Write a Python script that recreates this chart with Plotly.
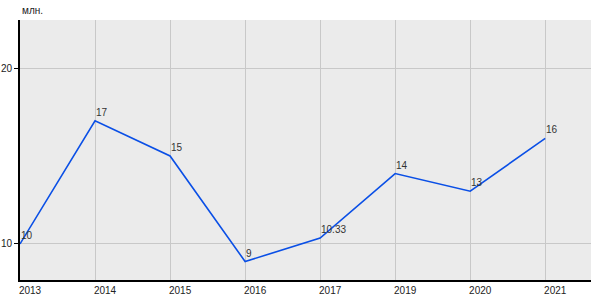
import plotly.graph_objects as go

years = ["2013", "2014", "2015", "2016", "2017", "2019", "2020", "2021"]
values = [10, 17, 15, 9, 10.33, 14, 13, 16]
y_ticks = [10, 20]
unit_label = "млн."

fig = go.Figure()
fig.add_trace(go.Scatter(
    x=years, y=values, mode="lines",
    line=dict(color="#0a4fe6", width=1.6),
    hoverinfo="skip", showlegend=False, cliponaxis=False,
))

labels = [dict(x=i, y=v, xref="x", yref="y", text=f"{v:g}", showarrow=False,
               xanchor="left", yanchor="bottom", xshift=-1, yshift=1,
               font=dict(size=10, color="#333333"))
          for i, v in enumerate(values)]

fig.update_layout(
    width=600, height=300,
    margin=dict(l=20, r=9, t=20, b=20),
    paper_bgcolor="#ffffff", plot_bgcolor="#ebebeb",
    font=dict(family="Liberation Sans, Arial", size=10, color="#222222"),
    annotations=[dict(text=unit_label, xref="paper", yref="paper", x=0, y=1,
                      xanchor="left", yanchor="bottom", yshift=2, showarrow=False,
                      font=dict(size=10, color="#222222"))] + labels,
)
fig.update_xaxes(
    type="category", range=[0, 7.61], automargin=False,
    showgrid=True, gridcolor="#c8c8c8", gridwidth=1,
    showline=True, linecolor="#000000", linewidth=2,
    ticks="", ticklabelshift=10, ticklabelstandoff=0,
    zeroline=False, fixedrange=True,
)
fig.update_yaxes(
    range=[7.95, 22.73], tickvals=y_ticks, automargin=False,
    showgrid=True, gridcolor="#c8c8c8", gridwidth=1,
    showline=True, linecolor="#000000", linewidth=2,
    ticks="outside", ticklen=4, tickcolor="#000000",
    zeroline=False, fixedrange=True,
)
fig.write_html("out.html")
